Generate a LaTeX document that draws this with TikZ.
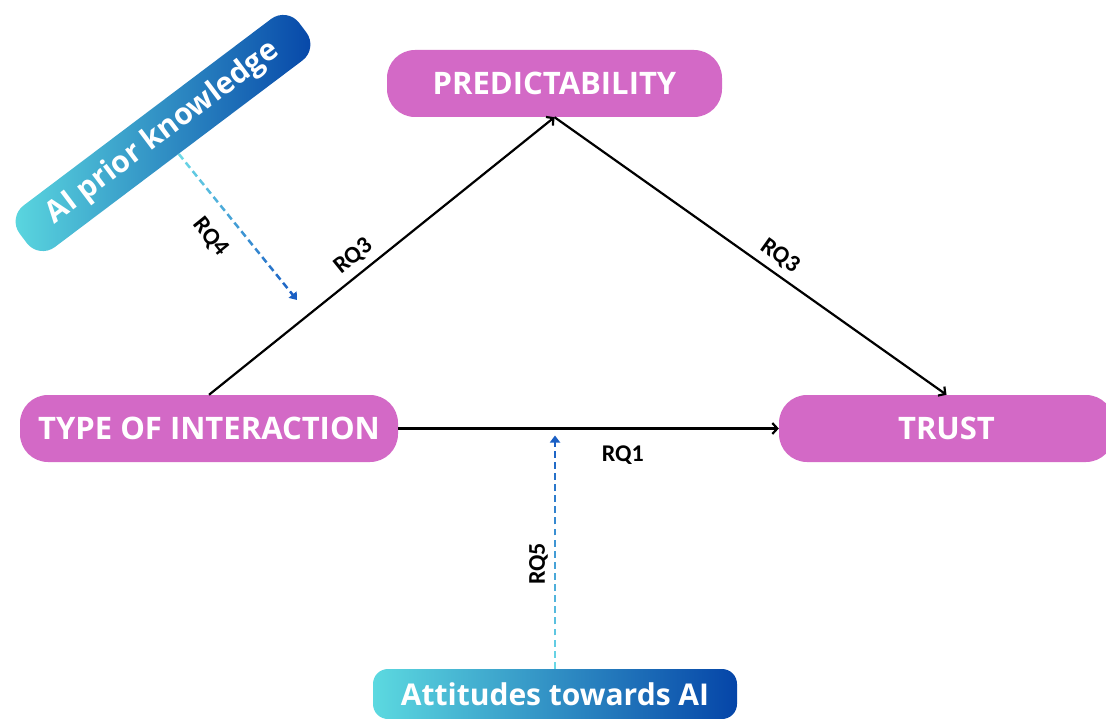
\documentclass[tikz,border=0pt]{standalone}
\usepackage{fontspec}
\setmainfont{Open Sans}
\newfontfamily\rqfont{Carlito}
\usetikzlibrary{arrows.meta,calc}
\definecolor{orchid}{HTML}{D369C6}
\definecolor{gradA}{HTML}{5CD9E0}
\definecolor{gradB}{HTML}{0545A8}
\definecolor{dashA}{HTML}{6AD8E6}
\definecolor{dashB}{HTML}{1A5FC4}

% dashed connector whose dashes fade from dashA to dashB, ending in a tip
% #1 = start, #2 = end, #3 = number of dash periods
\newcommand\fadedlink[3]{%
  \pgfmathtruncatemacro\lastdash{#3-2}%
  \foreach \k in {0,...,\lastdash}{%
    \pgfmathtruncatemacro\mixpct{100*\k/(#3-1)}%
    \draw[line width=2.5pt, dashB!\mixpct!dashA]
      ($(#1)!{\k/#3}!(#2)$) -- ($(#1)!{(\k+0.62)/#3}!(#2)$);
  }%
  \draw[line width=2.5pt, dashB, -{Triangle[length=7pt,width=10pt]}]
    ($(#1)!{(#3-1)/#3}!(#2)$) -- (#2);
}

\begin{document}
\begin{tikzpicture}[x=1pt, y=-1pt,
  factor/.style={fill=orchid, text=white,
    font=\bfseries\fontsize{31}{31}\selectfont,
    rounded corners=28pt, minimum height=67pt, inner sep=0pt},
  moderator/.style={left color=gradA, right color=gradB, text=white,
    font=\bfseries\fontsize{30}{30}\selectfont, inner sep=0pt},
  link/.style={line width=2.2pt, -{Straight Barb[length=5pt,width=11pt]}},
  rq/.style={font=\rqfont\bfseries\fontsize{24}{24}\selectfont,
    inner sep=0pt, sloped}
]
\useasboundingbox (0,0) rectangle (1106,719);
\clip (0,0) rectangle (1106,719);
\fill[white] (0,0) rectangle (1106,719);

% constructs
\node[factor, minimum width=335pt] (pred)  at (554.5,83.5) {PREDICTABILITY};
\node[factor, minimum width=378pt] (toi)   at (209,428.5)  {TYPE OF INTERACTION};
\node[factor, minimum width=335pt] (trust) at (946.5,428.5) {TRUST};

% moderators
\node[moderator, minimum width=364pt, minimum height=50pt,
      rounded corners=15pt] (att) at (555,694) {Attitudes towards AI};
\node[moderator, minimum width=350pt, minimum height=52pt,
      rounded corners=20pt, rotate=37] (apk) at (163,133) {AI prior knowledge};

% direct and mediated paths
\draw[link] (toi.north) -- node[rq, pos=.45, above=7pt] {RQ3} (pred.south);
\draw[link] (pred.south) -- node[rq, pos=.55, above=6.5pt] {RQ3} (trust.north);
\draw[link] (toi.east) -- node[rq, pos=.59, below=16pt] {RQ1} (trust.west);

% moderation paths
\coordinate (q4) at (297,300);
\coordinate (q5) at ($(att.north |- toi.east)+(0,7)$);
\fadedlink{apk.south}{q4}{17}
\fadedlink{att.north}{q5}{21}
\path (apk.south) -- node[rq, pos=.45, below=18pt] {RQ4} (q4);
\path (att.north) -- node[rq, pos=.45, above=7pt] {RQ5} (q5);
\end{tikzpicture}
\end{document}
